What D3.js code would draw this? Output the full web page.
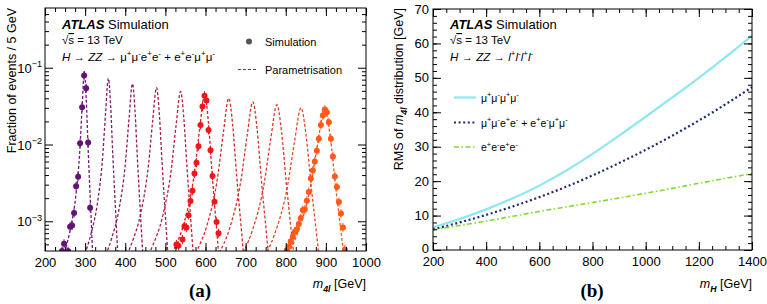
<!DOCTYPE html>
<html>
<head>
<meta charset="utf-8">
<script src="https://cdn.jsdelivr.net/npm/d3@7"></script>
<style>
  body { margin: 0; background: #fff; }
  svg { font-family: "Liberation Sans", Arial, Helvetica, sans-serif; }
</style>
</head>
<body>
<div id="chart"></div>
<script>
// ---- panel (a): simulated m4l shapes, fraction per 5 GeV ----
const sim300 = [[242.5,4.1e-4],[247.5,5.1e-4],[257.5,4.1e-4],[262.5,8.5e-4],[267.5,8.8e-4],[272.5,1.28e-3],
  [277.5,2.85e-3],[282.5,3.8e-3],[287.5,0.0104],[292.5,0.0305],[297.5,0.079],[302.5,0.054],[307.5,0.0106],[312.5,1.5e-3]];
const sim600 = [[527.5,5.0e-4],[532.5,4.8e-4],[542.5,5.8e-4],[547.5,8.6e-4],[552.5,8.3e-4],[557.5,1.2e-3],
  [562.5,1.84e-3],[567.5,2.5e-3],[572.5,4.2e-3],[577.5,5.8e-3],[582.5,9.5e-3],[587.5,0.018],[592.5,0.0312],
  [597.5,0.0433],[602.5,0.0373],[607.5,0.0155],[612.5,8.4e-3],[617.5,3.9e-3],[622.5,1.8e-3],[627.5,9.8e-4],[632.5,7.0e-4]];
const sim900 = [[802.5,4.2e-4],[807.5,4.7e-4],[812.5,5.5e-4],[817.5,6.3e-4],[822.5,7.3e-4],[827.5,7.8e-4],
  [832.5,9.2e-4],[837.5,1.1e-3],[842.5,1.4e-3],[847.5,1.42e-3],[852.5,1.85e-3],[857.5,2.4e-3],[862.5,3.6e-3],
  [867.5,4.6e-3],[872.5,6.0e-3],[877.5,8.3e-3],[882.5,0.0119],[887.5,0.018],[892.5,0.0238],[897.5,0.0285],
  [902.5,0.0263],[907.5,0.0195],[912.5,0.0119],[917.5,7.0e-3],[922.5,3.84e-3],[927.5,2.8e-3],[932.5,1.78e-3],
  [937.5,1.26e-3],[942.5,8.3e-4],[947.5,4.3e-4]];

// parametrisation curves, one per mass point
const paramMass = [300, 360, 420, 480, 540, 600, 660, 720, 780, 840, 900];
const paramCurves = [
  [[248.5,3.93e-4],[265,8.8e-4],[276,1.97e-3],[287,8.8e-3],[292.5,0.0312],[298,0.088],[302.75,0.0393],[307.5,8.8e-3],[313.2,1.76e-3],[319.9,2.78e-4]],
  [[295,3.26e-4],[316,7.3e-4],[330,1.63e-3],[344,7.3e-3],[351,0.0259],[358,0.073],[363.5,0.0326],[369,7.3e-3],[375.6,1.46e-3],[383.3,2.31e-4]],
  [[341.5,2.77e-4],[367,6.2e-4],[384,1.39e-3],[401,6.2e-3],[409.5,0.022],[418,0.062],[424.25,0.0277],[430.5,6.2e-3],[438,1.24e-3],[446.75,1.96e-4]],
  [[388,2.46e-4],[418,5.5e-4],[438,1.23e-3],[458,5.5e-3],[468,0.0195],[478,0.055],[485,0.0246],[492,5.5e-3],[500.4,1.10e-3],[510.2,1.74e-4]],
  [[434.5,2.19e-4],[469,4.9e-4],[492,1.10e-3],[515,4.9e-3],[526.5,0.0174],[538,0.049],[546,0.0219],[554,4.9e-3],[563.6,9.8e-4],[574.8,1.55e-4]],
  [[485.5,2.01e-4],[523,4.5e-4],[548,1.01e-3],[573,4.5e-3],[585.5,0.016],[598,0.045],[607,0.0201],[616,4.5e-3],[626.8,9.0e-4],[639.4,1.42e-4]],
  [[536.5,1.79e-4],[577,4.0e-4],[604,8.96e-4],[631,4.0e-3],[644.5,0.0142],[658,0.040],[667.75,0.0179],[677.5,4.0e-3],[689.2,7.98e-4],[702.85,1.26e-4]],
  [[587.5,1.61e-4],[631,3.6e-4],[660,8.06e-4],[689,3.6e-3],[703.5,0.0128],[718,0.036],[728.5,0.0161],[739,3.6e-3],[751.6,7.18e-4],[766.3,1.14e-4]],
  [[638.5,1.47e-4],[685,3.3e-4],[716,7.39e-4],[747,3.3e-3],[762.5,0.0117],[778,0.033],[789.5,0.0147],[801,3.3e-3],[814.8,6.58e-4],[830.9,1.04e-4]],
  [[689.5,1.34e-4],[739,3.0e-4],[772,6.72e-4],[805,3.0e-3],[821.5,0.0106],[838,0.030],[850.5,0.0134],[863,3.0e-3],[878,5.99e-4],[895.5,9.49e-5]],
  [[739.5,1.30e-4],[792,2.9e-4],[827,6.49e-4],[862,2.9e-3],[879.5,0.0103],[897,0.029],[910.5,0.013],[924,2.9e-3],[940.2,5.79e-4],[959.1,9.17e-5]]
];
const xTicksA = [200, 300, 400, 500, 600, 700, 800, 900, 1000];
const yTicksA = [1e-3, 1e-2, 1e-1];

// ---- panel (b): RMS of m4l vs mH ----
const mH = [200, 300, 400, 500, 600, 700, 800, 900, 1000, 1100, 1200, 1300, 1400];
const rms4mu   = [6.6, 9.0, 11.8, 15.0, 18.7, 23.0, 27.9, 33.2, 38.7, 44.3, 50.0, 56.0, 62.3];
const rms2e2mu = [6.0, 8.0, 10.2, 12.65, 15.35, 18.35, 21.65, 25.25, 29.1, 33.2, 37.6, 42.3, 47.3];
const rms4e    = [5.9, 7.1, 8.4, 9.8, 11.2, 12.5, 13.8, 15.1, 16.5, 17.9, 19.4, 20.8, 22.2];
const xTicksB = [200, 400, 600, 800, 1000, 1200, 1400];
const yTicksB = [0, 10, 20, 30, 40, 50, 60, 70];

// styles
const curveColors = ["#6e1a78", "#7e1c68", "#8e1d58", "#a01e4a", "#b81f3a", "#e01c22",
                     "#d8282a", "#da302b", "#df3a2a", "#e84826", "#f25520"];
const simColors = {300: "#661177", 600: "#ee1818", 900: "#ff5a18"};

const W = 767, H = 304;
const svg = d3.select("#chart").append("svg").attr("width", W).attr("height", H);

function rich(sel, parts, size) {
  let prev = 0;
  parts.forEach(([s, k]) => {
    k = k || "";
    const shift = k.includes("sup") ? -0.42 * size : k.includes("sub") ? 0.3 * size : 0;
    const t = sel.append("tspan").text(s).attr("dy", shift - prev);
    if (k.includes("sup") || k.includes("sub")) t.attr("font-size", size * 0.7);
    if (k.includes("i")) t.attr("font-style", "italic");
    if (k.includes("b")) t.attr("font-weight", "bold");
    if (k.includes("o")) t.style("text-decoration", "overline");
    prev = shift;
  });
}

function axes(g, x, y, box, xMaj, xMin, yMaj, yMin) {
  const [x0, x1, y0, y1] = box;
  const major = 8, minor = 4;
  const ax = (gen, tr, vals, size, fmt) => {
    const a = g.append("g").attr("transform", tr)
      .call(gen.tickValues(vals).tickSize(-size).tickSizeOuter(0).tickPadding(7).tickFormat(fmt));
    a.select(".domain").remove();
    a.selectAll("line").attr("stroke", "#000");
    return a;
  };
  const lab = ax(d3.axisBottom(x), `translate(0,${y1})`, xMaj, major, d => d);
  lab.selectAll("text").attr("font-size", 13).attr("fill", "#000").attr("font-family", "Liberation Sans, Arial");
  ax(d3.axisBottom(x), `translate(0,${y1})`, xMin, minor, "");
  ax(d3.axisTop(x), `translate(0,${y0})`, xMaj, major, "");
  ax(d3.axisTop(x), `translate(0,${y0})`, xMin, minor, "");
  ax(d3.axisLeft(y), `translate(${x0},0)`, yMaj, major, "");
  ax(d3.axisLeft(y), `translate(${x0},0)`, yMin, minor, "");
  ax(d3.axisRight(y), `translate(${x1},0)`, yMaj, major, "");
  ax(d3.axisRight(y), `translate(${x1},0)`, yMin, minor, "");
  g.append("rect").attr("x", x0).attr("y", y0).attr("width", x1 - x0).attr("height", y1 - y0)
    .attr("fill", "none").attr("stroke", "#000").attr("stroke-width", 1);
}

// ================= panel (a) =================
const boxA = [45, 366, 8, 251];
const xA = d3.scaleLinear().domain([200, 1000]).range([boxA[0], boxA[1]]);
const yA = d3.scaleLog().domain([4.1e-4, 0.6]).range([boxA[3], boxA[2]]);
const gA = svg.append("g");

gA.append("clipPath").attr("id", "clipA").append("rect")
  .attr("x", boxA[0]).attr("y", boxA[2]).attr("width", boxA[1] - boxA[0]).attr("height", boxA[3] - boxA[2]);
const plotA = gA.append("g").attr("clip-path", "url(#clipA)");

const lineA = d3.line().x(d => xA(d[0])).y(d => yA(d[1])).curve(d3.curveMonotoneX);
plotA.selectAll("path.param").data(paramCurves).join("path")
  .attr("class", "param")
  .attr("d", lineA)
  .attr("fill", "none")
  .attr("stroke", (d, i) => curveColors[i])
  .attr("stroke-width", 1.3)
  .attr("stroke-dasharray", "3,2");

[[300, sim300], [600, sim600], [900, sim900]].forEach(([m, pts]) => {
  const c = simColors[m];
  const gp = plotA.append("g");
  gp.selectAll("line").data(pts).join("line")
    .attr("x1", d => xA(d[0])).attr("x2", d => xA(d[0]))
    .attr("y1", d => yA(d[1]) - 4.5).attr("y2", d => yA(d[1]) + 4.5)
    .attr("stroke", c).attr("stroke-width", 1);
  gp.selectAll("circle").data(pts).join("circle")
    .attr("cx", d => xA(d[0])).attr("cy", d => yA(d[1])).attr("r", 3)
    .attr("fill", c);
});

const logMinorA = [];
[1e-4, 1e-3, 1e-2, 1e-1].forEach(dec => {
  for (let k = 2; k <= 9; k++) {
    const v = dec * k;
    if (v > 4.1e-4 && v < 0.6) logMinorA.push(v);
  }
});
axes(gA, xA, yA, boxA, xTicksA, d3.range(200, 1001, 25), yTicksA, logMinorA);

yTicksA.forEach(v => {
  const t = gA.append("text").attr("x", 42).attr("y", yA(v) + 5)
    .attr("text-anchor", "end").attr("font-size", 13);
  rich(t, [["10", ""], ["\u2212" + Math.round(-Math.log10(v)), "sup"]], 13);
});

// titles (a)
gA.append("text").attr("transform", "translate(16,8) rotate(-90)")
  .attr("text-anchor", "end").attr("font-size", 12.5).text("Fraction of events / 5 GeV");
const xTitleA = gA.append("text").attr("x", 366).attr("y", 288).attr("text-anchor", "end").attr("font-size", 12.5);
rich(xTitleA, [["m", "i"], ["4l", "isub"], [" [GeV]", ""]], 12.5);
gA.append("text").attr("x", 200).attr("y", 297).attr("text-anchor", "middle")
  .attr("font-family", "Liberation Serif, Times New Roman, serif").attr("font-weight", "bold")
  .attr("font-size", 19).text("(a)");

const atlasA = gA.append("text").attr("x", 62).attr("y", 28.5).attr("font-size", 13);
rich(atlasA, [["ATLAS", "ib"], [" Simulation", ""]], 13);
const sqA = gA.append("text").attr("x", 62).attr("y", 44).attr("font-size", 11.5);
rich(sqA, [["\u221A", ""], ["s", "o"], [" = 13 TeV", ""]], 11.5);
const procA = gA.append("text").attr("x", 62).attr("y", 60.5).attr("font-size", 11.5);
rich(procA, [["H", "i"], [" \u2192 ", ""], ["ZZ", "i"], [" \u2192 \u03BC", ""], ["+", "sup"], ["\u03BC", ""], ["-", "sup"],
  ["e", ""], ["+", "sup"], ["e", ""], ["-", "sup"], [" + e", ""], ["+", "sup"], ["e", ""], ["-", "sup"],
  ["\u03BC", ""], ["+", "sup"], ["\u03BC", ""], ["-", "sup"]], 11.5);

// legend (a)
gA.append("circle").attr("cx", 249).attr("cy", 41.5).attr("r", 3).attr("fill", "#555");
gA.append("text").attr("x", 265).attr("y", 45.5).attr("font-size", 11).text("Simulation");
gA.append("line").attr("x1", 238).attr("x2", 258).attr("y1", 69.5).attr("y2", 69.5)
  .attr("stroke", "#b3202e").attr("stroke-width", 1.2).attr("stroke-dasharray", "3,2");
gA.append("text").attr("x", 265).attr("y", 73.5).attr("font-size", 11).text("Parametrisation");

// ================= panel (b) =================
const boxB = [433, 752, 9, 250];
const xB = d3.scaleLinear().domain([200, 1400]).range([boxB[0], boxB[1]]);
const yB = d3.scaleLinear().domain([0, 70]).range([boxB[3], boxB[2]]);
const gB = svg.append("g");

gB.append("clipPath").attr("id", "clipB").append("rect")
  .attr("x", boxB[0]).attr("y", boxB[2]).attr("width", boxB[1] - boxB[0]).attr("height", boxB[3] - boxB[2]);
const plotB = gB.append("g").attr("clip-path", "url(#clipB)");

const seriesB = [
  {vals: rms4mu, color: "#8ce8f2", width: 2.2, dash: null},
  {vals: rms2e2mu, color: "#1c2a6e", width: 2.2, dash: "2,2.6"},
  {vals: rms4e, color: "#7fdc2e", width: 1.6, dash: "5,2.5,1.5,2.5"}
];
const lineB = d3.line().x((d, i) => xB(mH[i])).y(d => yB(d)).curve(d3.curveMonotoneX);
plotB.selectAll("path.rms").data(seriesB).join("path")
  .attr("class", "rms")
  .attr("d", d => lineB(d.vals))
  .attr("fill", "none")
  .attr("stroke", d => d.color)
  .attr("stroke-width", d => d.width)
  .attr("stroke-dasharray", d => d.dash);

axes(gB, xB, yB, boxB, xTicksB, d3.range(200, 1401, 50), yTicksB, d3.range(0, 71, 2));
gB.selectAll("text.ylab").data(yTicksB).join("text").attr("class", "ylab")
  .attr("x", 429).attr("y", d => yB(d) + (d === 0 ? 2.5 : 4.5)).attr("text-anchor", "end").attr("font-size", 13)
  .text(d => d);

const yTitleB = gB.append("text").attr("transform", "translate(403,8) rotate(-90)")
  .attr("text-anchor", "end").attr("font-size", 12.5);
rich(yTitleB, [["RMS of ", ""], ["m", "i"], ["4l", "isub"], [" distribution [GeV]", ""]], 12.5);
const xTitleB = gB.append("text").attr("x", 752).attr("y", 288).attr("text-anchor", "end").attr("font-size", 12.5);
rich(xTitleB, [["m", "i"], ["H", "isub"], [" [GeV]", ""]], 12.5);
gB.append("text").attr("x", 592).attr("y", 297).attr("text-anchor", "middle")
  .attr("font-family", "Liberation Serif, Times New Roman, serif").attr("font-weight", "bold")
  .attr("font-size", 19).text("(b)");

const atlasB = gB.append("text").attr("x", 450).attr("y", 28.5).attr("font-size", 13);
rich(atlasB, [["ATLAS", "ib"], [" Simulation", ""]], 13);
const sqB = gB.append("text").attr("x", 450).attr("y", 44).attr("font-size", 11.5);
rich(sqB, [["\u221A", ""], ["s", "o"], [" = 13 TeV", ""]], 11.5);
const procB = gB.append("text").attr("x", 450).attr("y", 60.5).attr("font-size", 11.5);
rich(procB, [["H", "i"], [" \u2192 ", ""], ["ZZ", "i"], [" \u2192 ", ""], ["l", "i"], ["+", "sup"], ["l", "i"], ["-", "sup"],
  ["l", "i"], ["+", "sup"], ["l", "i"], ["-", "sup"]], 11.5);

// legend (b)
const legB = [
  [[["\u03BC", ""], ["+", "sup"], ["\u03BC", ""], ["-", "sup"], ["\u03BC", ""], ["+", "sup"], ["\u03BC", ""], ["-", "sup"]], 97.5],
  [[["\u03BC", ""], ["+", "sup"], ["\u03BC", ""], ["-", "sup"], ["e", ""], ["+", "sup"], ["e", ""], ["-", "sup"],
    [" + e", ""], ["+", "sup"], ["e", ""], ["-", "sup"], ["\u03BC", ""], ["+", "sup"], ["\u03BC", ""], ["-", "sup"]], 122.5],
  [[["e", ""], ["+", "sup"], ["e", ""], ["-", "sup"], ["e", ""], ["+", "sup"], ["e", ""], ["-", "sup"]], 147]
];
legB.forEach(([parts, ly], i) => {
  const s = seriesB[i];
  gB.append("line").attr("x1", 454).attr("x2", 476).attr("y1", ly).attr("y2", ly)
    .attr("stroke", s.color).attr("stroke-width", s.width).attr("stroke-dasharray", s.dash);
  const t = gB.append("text").attr("x", 481).attr("y", ly + 4).attr("font-size", 10.5);
  rich(t, parts, 10.5);
});
</script>
</body>
</html>
